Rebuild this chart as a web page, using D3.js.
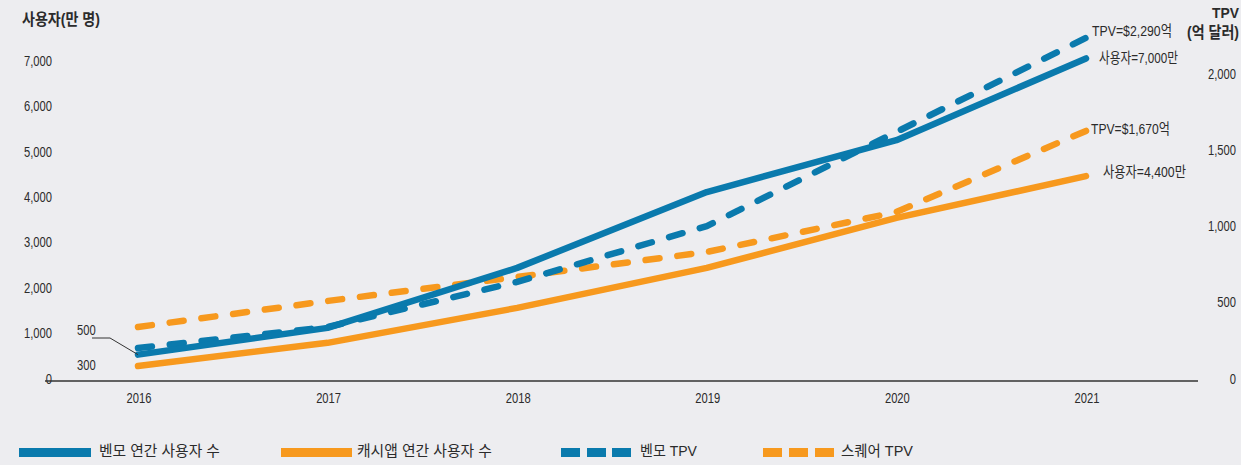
<!DOCTYPE html>
<html><head><meta charset="utf-8">
<script src="https://cdn.jsdelivr.net/npm/d3@7"></script>
<style>
html,body{margin:0;padding:0;background:#ededf0;}
svg text{font-family:"Liberation Sans","Noto Sans CJK KR",sans-serif;fill:#2b2b2b;}
</style></head>
<body>
<svg id="c" width="1241" height="465"></svg>
<script>
const years = ["2016","2017","2018","2019","2020","2021"];
const venmoUsers = [580, 1170, 2490, 4160, 5300, 7100];
const cashAppUsers = [330, 840, 1610, 2490, 3590, 4510];
const venmoTPV = [216, 354, 650, 1016, 1633, 2250];
const squareTPV = [354, 525, 682, 846, 1108, 1640];
const leftTicks = [0,1000,2000,3000,4000,5000,6000,7000];
const rightTicks = [0,500,1000,1500,2000];
const legendLabels = ["벤모 연간 사용자 수","캐시앱 연간 사용자 수","벤모 TPV","스퀘어 TPV"];

const BLUE = "#0a7aad", ORANGE = "#f7991e";
const svg = d3.select("#c");
const x = d3.scalePoint().domain(years).range([138, 1086]);
const yL = d3.scaleLinear().domain([0,7000]).range([381,63]);
const yR = d3.scaleLinear().domain([0,2000]).range([381,76]);
const fmt = d3.format(",");

// baseline
svg.append("line").attr("x1",45).attr("x2",1198).attr("y1",381).attr("y2",381)
  .attr("stroke","#333").attr("stroke-width",1.5);

// horizontally condensed text: opt.k = scale factor, or opt.w = target width
function stext(xp, yp, txt, opt){
  const o = Object.assign({anchor:"start", size:14, weight:"normal"}, opt);
  const t = svg.append("text").attr("x",0).attr("y",0).attr("dominant-baseline","middle")
    .attr("font-size",o.size).attr("font-weight",o.weight).text(txt);
  const nw = t.node().getComputedTextLength();
  const k = o.w ? o.w/nw : (o.k || 0.8);
  const w = nw*k;
  const x0 = o.anchor==="end" ? xp-w : o.anchor==="middle" ? xp-w/2 : xp;
  t.attr("transform",`translate(${x0},${yp}) scale(${k},1)`);
  return t;
}

leftTicks.forEach(d=>stext(52, yL(d)-1, fmt(d), {anchor:"end"}));
rightTicks.forEach(d=>stext(1236, yR(d)-1, fmt(d), {anchor:"end"}));
years.forEach(d=>stext(x(d)+1, 399, d, {anchor:"middle"}));

// titles
stext(22, 21, "사용자(만 명)", {size:16, weight:"bold", w:78});
stext(1212, 14, "TPV", {size:15, weight:"bold", w:27});
stext(1187, 34, "(억 달러)", {size:16, weight:"bold", w:52});

// lines
const lineL = d3.line().x((d,i)=>x(years[i])).y(d=>yL(d));
const lineR = d3.line().x((d,i)=>x(years[i])).y(d=>yR(d));
function draw(data, gen, color, dashed){
  svg.append("path").datum(data).attr("d",gen).attr("fill","none")
    .attr("stroke",color).attr("stroke-width",6.5)
    .attr("stroke-linecap","round").attr("stroke-linejoin","round")
    .attr("stroke-dasharray",dashed?"14,18":null);
}
draw(squareTPV, lineR, ORANGE, true);
draw(cashAppUsers, lineL, ORANGE, false);
draw(venmoTPV, lineR, BLUE, true);
draw(venmoUsers, lineL, BLUE, false);

// leader line for 500
const px = x(years[0]), py = yL(venmoUsers[0]);
svg.append("path").attr("d",`M92,338 L110,338 L${px},${py}`).attr("fill","none")
  .attr("stroke","#333").attr("stroke-width",1);
stext(77, 331, "500", {});
stext(77, 366, "300", {});

// end annotations
stext(1092, 32, "TPV=$2,290억", {size:15, w:80});
stext(1099, 59, "사용자=7,000만", {size:15, w:79});
stext(1091, 130, "TPV=$1,670억", {size:15, w:79});
stext(1103, 173, "사용자=4,400만", {size:15, w:83});

// legend
const lg = svg.append("g");
lg.append("rect").attr("x",19).attr("y",448).attr("width",72).attr("height",9).attr("fill",BLUE);
lg.append("rect").attr("x",281).attr("y",448).attr("width",71).attr("height",9).attr("fill",ORANGE);
[561,587,612].forEach(v=>lg.append("rect").attr("x",v).attr("y",448).attr("width",19).attr("height",9).attr("fill",BLUE));
[763,789,815].forEach(v=>lg.append("rect").attr("x",v).attr("y",448).attr("width",19).attr("height",9).attr("fill",ORANGE));
const lgPos = [{x:99,w:121},{x:357,w:135},{x:640,w:57},{x:841,w:72}];
lgPos.forEach((p,i)=>stext(p.x, 452, legendLabels[i], {size:15, w:p.w}));
</script>
</body></html>
